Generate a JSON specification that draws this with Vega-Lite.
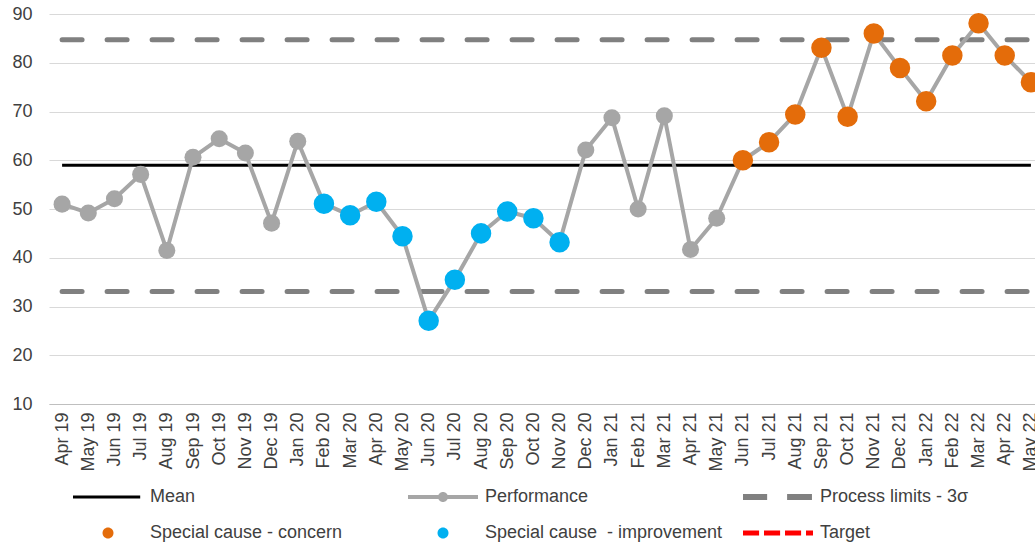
{
  "$schema": "https://vega.github.io/schema/vega-lite/v6.json",
  "autosize": {"type": "none"},
  "width": 995,
  "height": 390,
  "padding": {"left": 49, "top": 14, "right": -9, "bottom": 143},
  "background": "white",
  "config": {
    "view": {"stroke": null},
    "font": "Liberation Sans",
    "axisY": {"domain": false, "ticks": false, "grid": true, "gridColor": "#d9d9d9", "gridWidth": 1, "labelFontSize": 18, "labelColor": "#404040", "labelPadding": 17, "tickCount": 8, "title": null},
    "axisX": {"domain": true, "domainColor": "#bfbfbf", "domainWidth": 1, "ticks": false, "grid": false, "labelAngle": -90, "labelFontSize": 18, "labelColor": "#404040", "labelPadding": 8, "title": null}
  },
  "data": {"values": [
    {"month": "Apr 19", "value": 51.0, "status": "normal", "mean": 59.0, "ucl": 84.7, "lcl": 33.1},
    {"month": "May 19", "value": 49.2, "status": "normal", "mean": 59.0, "ucl": 84.7, "lcl": 33.1},
    {"month": "Jun 19", "value": 52.1, "status": "normal", "mean": 59.0, "ucl": 84.7, "lcl": 33.1},
    {"month": "Jul 19", "value": 57.1, "status": "normal", "mean": 59.0, "ucl": 84.7, "lcl": 33.1},
    {"month": "Aug 19", "value": 41.5, "status": "normal", "mean": 59.0, "ucl": 84.7, "lcl": 33.1},
    {"month": "Sep 19", "value": 60.6, "status": "normal", "mean": 59.0, "ucl": 84.7, "lcl": 33.1},
    {"month": "Oct 19", "value": 64.4, "status": "normal", "mean": 59.0, "ucl": 84.7, "lcl": 33.1},
    {"month": "Nov 19", "value": 61.5, "status": "normal", "mean": 59.0, "ucl": 84.7, "lcl": 33.1},
    {"month": "Dec 19", "value": 47.1, "status": "normal", "mean": 59.0, "ucl": 84.7, "lcl": 33.1},
    {"month": "Jan 20", "value": 63.9, "status": "normal", "mean": 59.0, "ucl": 84.7, "lcl": 33.1},
    {"month": "Feb 20", "value": 51.1, "status": "improvement", "mean": 59.0, "ucl": 84.7, "lcl": 33.1},
    {"month": "Mar 20", "value": 48.7, "status": "improvement", "mean": 59.0, "ucl": 84.7, "lcl": 33.1},
    {"month": "Apr 20", "value": 51.5, "status": "improvement", "mean": 59.0, "ucl": 84.7, "lcl": 33.1},
    {"month": "May 20", "value": 44.4, "status": "improvement", "mean": 59.0, "ucl": 84.7, "lcl": 33.1},
    {"month": "Jun 20", "value": 27.1, "status": "improvement", "mean": 59.0, "ucl": 84.7, "lcl": 33.1},
    {"month": "Jul 20", "value": 35.5, "status": "improvement", "mean": 59.0, "ucl": 84.7, "lcl": 33.1},
    {"month": "Aug 20", "value": 45.0, "status": "improvement", "mean": 59.0, "ucl": 84.7, "lcl": 33.1},
    {"month": "Sep 20", "value": 49.5, "status": "improvement", "mean": 59.0, "ucl": 84.7, "lcl": 33.1},
    {"month": "Oct 20", "value": 48.1, "status": "improvement", "mean": 59.0, "ucl": 84.7, "lcl": 33.1},
    {"month": "Nov 20", "value": 43.2, "status": "improvement", "mean": 59.0, "ucl": 84.7, "lcl": 33.1},
    {"month": "Dec 20", "value": 62.1, "status": "normal", "mean": 59.0, "ucl": 84.7, "lcl": 33.1},
    {"month": "Jan 21", "value": 68.7, "status": "normal", "mean": 59.0, "ucl": 84.7, "lcl": 33.1},
    {"month": "Feb 21", "value": 50.0, "status": "normal", "mean": 59.0, "ucl": 84.7, "lcl": 33.1},
    {"month": "Mar 21", "value": 69.1, "status": "normal", "mean": 59.0, "ucl": 84.7, "lcl": 33.1},
    {"month": "Apr 21", "value": 41.7, "status": "normal", "mean": 59.0, "ucl": 84.7, "lcl": 33.1},
    {"month": "May 21", "value": 48.1, "status": "normal", "mean": 59.0, "ucl": 84.7, "lcl": 33.1},
    {"month": "Jun 21", "value": 60.0, "status": "concern", "mean": 59.0, "ucl": 84.7, "lcl": 33.1},
    {"month": "Jul 21", "value": 63.7, "status": "concern", "mean": 59.0, "ucl": 84.7, "lcl": 33.1},
    {"month": "Aug 21", "value": 69.4, "status": "concern", "mean": 59.0, "ucl": 84.7, "lcl": 33.1},
    {"month": "Sep 21", "value": 83.1, "status": "concern", "mean": 59.0, "ucl": 84.7, "lcl": 33.1},
    {"month": "Oct 21", "value": 68.9, "status": "concern", "mean": 59.0, "ucl": 84.7, "lcl": 33.1},
    {"month": "Nov 21", "value": 86.0, "status": "concern", "mean": 59.0, "ucl": 84.7, "lcl": 33.1},
    {"month": "Dec 21", "value": 78.9, "status": "concern", "mean": 59.0, "ucl": 84.7, "lcl": 33.1},
    {"month": "Jan 22", "value": 72.1, "status": "concern", "mean": 59.0, "ucl": 84.7, "lcl": 33.1},
    {"month": "Feb 22", "value": 81.5, "status": "concern", "mean": 59.0, "ucl": 84.7, "lcl": 33.1},
    {"month": "Mar 22", "value": 88.1, "status": "concern", "mean": 59.0, "ucl": 84.7, "lcl": 33.1},
    {"month": "Apr 22", "value": 81.5, "status": "concern", "mean": 59.0, "ucl": 84.7, "lcl": 33.1},
    {"month": "May 22", "value": 76.0, "status": "concern", "mean": 59.0, "ucl": 84.7, "lcl": 33.1}
  ]},
  "encoding": {
    "x": {"field": "month", "type": "ordinal", "sort": null, "scale": {"type": "point", "padding": 0.5}, "title": null}
  },
  "layer": [
    {
      "mark": {"type": "line", "color": "#808080", "strokeWidth": 5, "strokeDash": [20, 25], "strokeCap": "round"},
      "encoding": {"y": {"field": "ucl", "type": "quantitative", "scale": {"domain": [10, 90], "nice": false, "zero": false}, "title": null}}
    },
    {
      "mark": {"type": "line", "color": "#808080", "strokeWidth": 5, "strokeDash": [20, 25], "strokeCap": "round"},
      "encoding": {"y": {"field": "lcl", "type": "quantitative", "title": null}}
    },
    {
      "mark": {"type": "line", "color": "#000000", "strokeWidth": 3},
      "encoding": {"y": {"field": "mean", "type": "quantitative", "title": null}}
    },
    {
      "mark": {"type": "line", "color": "#a6a6a6", "strokeWidth": 4, "strokeJoin": "round"},
      "encoding": {"y": {"field": "value", "type": "quantitative", "title": null}}
    },
    {
      "mark": {"type": "circle", "color": "#a6a6a6", "size": 290, "opacity": 1},
      "encoding": {"y": {"field": "value", "type": "quantitative", "title": null}}
    },
    {
      "transform": [{"filter": "datum.status !== 'normal'"}],
      "mark": {"type": "circle", "size": 420, "opacity": 1},
      "encoding": {
        "y": {"field": "value", "type": "quantitative", "title": null},
        "color": {"condition": {"test": "datum.status === 'concern'", "value": "#e46c0a"}, "value": "#00b0f0"}
      }
    },
    {
      "transform": [{"filter": "false"}],
      "mark": {"type": "point", "filled": true, "opacity": 1},
      "encoding": {
        "color": {
          "field": "series", "type": "nominal",
          "scale": {
            "domain": ["Mean", "Performance", "Process limits - 3σ", "Special cause - concern", "Special cause\u00a0 - improvement", "Target"],
            "range": ["#000000", "#a6a6a6", "#808080", "#e46c0a", "#00b0f0", "#ff0000"]
          },
          "legend": {
            "orient": "none", "direction": "horizontal", "legendX": 24, "legendY": 471, "columns": 3, "title": null,
            "symbolSize": 4900, "clipHeight": 24, "labelOffset": 7, "columnPadding": 20, "rowPadding": 12,
            "gridAlign": "all", "labelFontSize": 18, "labelColor": "#404040", "symbolStrokeWidth": 0,
            "padding": 0, "labelLimit": 400, "symbolOpacity": 1
          }
        },
        "shape": {
          "field": "series", "type": "nominal",
          "scale": {
            "domain": ["Mean", "Performance", "Process limits - 3σ", "Special cause - concern", "Special cause\u00a0 - improvement", "Target"],
            "range": [
              "M-1,-0.043H0.92V0.043H-1Z",
              "M-1,-0.057H1V0.057H-1Z M0.143,0A0.143,0.143 0 1,1 -0.143,0A0.143,0.143 0 1,1 0.143,0Z",
              "M-1,-0.086H-0.31V0.086H-1Z M0.26,-0.086H0.97V0.086H0.26Z",
              "M0.157,0A0.157,0.157 0 1,1 -0.157,0A0.157,0.157 0 1,1 0.157,0Z",
              "M0.157,0A0.157,0.157 0 1,1 -0.157,0A0.157,0.157 0 1,1 0.157,0Z",
              "M-1,-0.07H-0.54V0.07H-1Z M-0.4,-0.07H0.06V0.07H-0.4Z M0.2,-0.07H0.66V0.07H0.2Z M0.8,-0.07H1V0.07H0.8Z"
            ]
          },
          "legend": {
            "orient": "none", "direction": "horizontal", "legendX": 24, "legendY": 471, "columns": 3, "title": null,
            "symbolSize": 4900, "clipHeight": 24, "labelOffset": 7, "columnPadding": 20, "rowPadding": 12,
            "gridAlign": "all", "labelFontSize": 18, "labelColor": "#404040", "symbolStrokeWidth": 0,
            "padding": 0, "labelLimit": 400, "symbolOpacity": 1
          }
        }
      }
    }
  ]
}
